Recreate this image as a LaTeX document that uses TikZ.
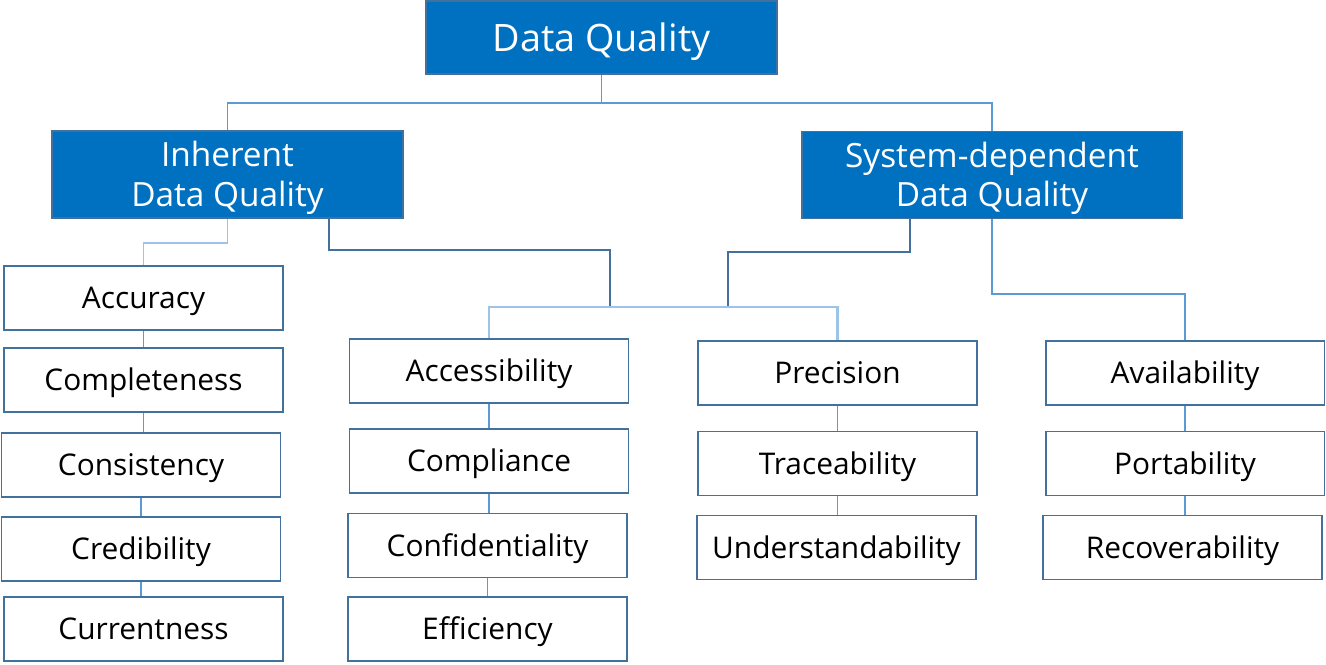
\documentclass[tikz,border=0pt]{standalone}
\usepackage{fontspec}
\setmainfont{Open Sans}
\usetikzlibrary{positioning}
\definecolor{dqblue}{HTML}{0070C0}
\definecolor{dqedge}{HTML}{41719C}
\definecolor{dqlink}{HTML}{5B9BD5}
\definecolor{dqpale}{HTML}{9DC3E6}

\begin{document}
\begin{tikzpicture}[
  x=0.02cm, y=-0.02cm,
  topbox/.style ={rectangle, draw=dqedge, line width=1.1pt, fill=dqblue, text=white, align=center, minimum width=7.02cm, minimum height=1.46cm, text height=15.4pt, text depth=0pt, font=\fontsize{21.5}{25}\selectfont},
  catbox/.style ={rectangle, draw=dqedge, line width=1.1pt, fill=dqblue, text=white, align=center, minimum height=1.74cm, text height=36.3pt, text depth=0pt, font=\fontsize{19}{22.7}\selectfont},
  itembox/.style={rectangle, draw=dqedge, line width=1.1pt, fill=white, align=center, minimum width=5.58cm, minimum height=1.28cm, text height=12.1pt, text depth=0pt, font=\fontsize{17}{20}\selectfont},
  link/.style   ={draw=dqlink, line width=0.6pt},
  palelink/.style={draw=dqpale, line width=0.6pt},
  barlink/.style={draw=dqpale, line width=1.2pt},
  darklink/.style={draw=dqedge, line width=1.2pt},
]
\useasboundingbox (0,0) rectangle (1326,665);
% top levels
\node[topbox] (dq) at (601.5,37.5) {Data Quality};
\node[catbox, minimum width=7.02cm] (inh) at (227.5,174.5) {Inherent\\Data Quality};
\node[catbox, minimum width=7.6cm] (sys) at (992,175) {System-dependent\\Data Quality};
% inherent items
\node[itembox] (acc) at (143.5,298) {Accuracy};
\node[itembox] (cmp) at (143.5,380) {Completeness};
\node[itembox] (cns) at (141,465) {Consistency};
\node[itembox] (crd) at (141,549) {Credibility};
\node[itembox] (cur) at (143.5,629) {Currentness};
% shared items
\node[itembox] (acs) at (489,371) {Accessibility};
\node[itembox] (cpl) at (489,461) {Compliance};
\node[itembox] (cfd) at (487.5,545.5) {Confidentiality};
\node[itembox] (eff) at (487.5,629) {Efficiency};
\node[itembox] (prc) at (837.5,373) {Precision};
\node[itembox] (trc) at (837.5,463.5) {Traceability};
\node[itembox] (und) at (836.5,547.5) {Understandability};
% system-dependent items
\node[itembox] (avl) at (1185,373) {Availability};
\node[itembox] (prt) at (1185,463.5) {Portability};
\node[itembox] (rcv) at (1182.5,547.5) {Recoverability};
% joints
\coordinate (jtop) at (601.5,103);
\coordinate (ia) at (185,243);
\coordinate (inhR) at (329,219);
\coordinate (sysL) at (910,219);
\coordinate (bl) at (610,306);
\coordinate (br) at (728,306);
\coordinate (bar) at (662,307);
\coordinate (sa) at (1088,294);
% connectors
\draw[link] (dq.south) -- (jtop);
\draw[link] (inh.north) |- (jtop) -| (sys.north);
\draw[palelink] (inh.south) |- (ia) -| (acc.north);
\draw[darklink] (inhR) -- ++(0,31) -| (bl);
\draw[darklink] (sysL) -- ++(0,33) -| (br);
\draw[barlink] (acs.north) |- (bar) -| (prc.north);
\draw[link] (sys.south) |- (sa) -| (avl.north);
\foreach \a/\b in {acc/cmp,cmp/cns,cns/crd,crd/cur,acs/cpl,cpl/cfd,cfd/eff,prc/trc,trc/und,avl/prt,prt/rcv}
  \draw[link] (\a.south) -- (\a.south |- \b.north);
\end{tikzpicture}
\end{document}
